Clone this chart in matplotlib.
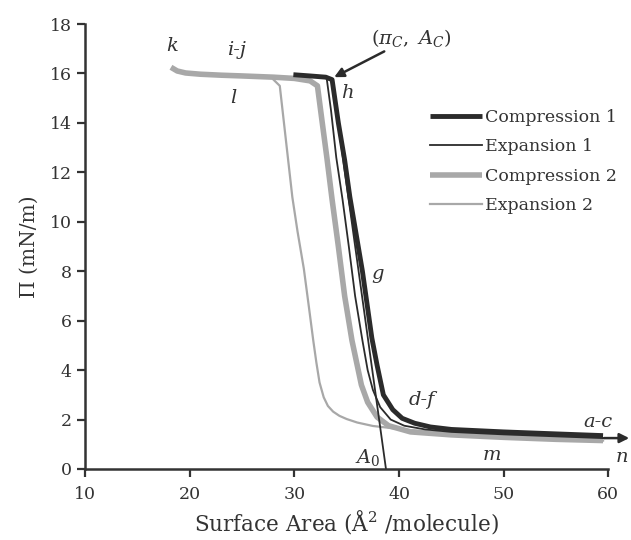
import numpy as np
import matplotlib.pyplot as plt

plt.rcParams["font.family"] = ["DejaVu Serif"]
plt.rcParams["mathtext.fontset"] = "dejavuserif"

# isotherm data (area in A^2/molecule, pressure in mN/m)
comp1_x = [29.9, 31.5, 33.0, 33.6, 34.2, 34.8, 35.3, 35.9, 36.5, 37.0, 37.4, 37.9,
           38.5, 39.4, 40.3, 41.5, 43.0, 45.0, 50.0, 55.0, 59.5]
comp1_y = [15.95, 15.9, 15.85, 15.75, 14.0, 12.5, 11.0, 9.5, 8.0, 6.5, 5.3, 4.2,
           3.0, 2.4, 2.05, 1.85, 1.7, 1.6, 1.5, 1.42, 1.35]

exp1_x = [33.1, 33.5, 34.0, 34.6, 35.2, 35.8, 36.5, 37.0, 37.5, 38.2, 39.2, 40.5,
          42.5, 45.0, 50.0, 55.0, 59.5]
exp1_y = [15.75, 14.5, 12.6, 10.9, 9.0, 7.0, 5.2, 4.0, 3.2, 2.5, 2.0, 1.75,
          1.6, 1.5, 1.4, 1.32, 1.25]

comp2_x = [18.2, 18.8, 19.6, 21.0, 23.0, 25.0, 28.0, 30.0, 31.5, 32.2, 32.6, 33.1, 33.6,
           34.2, 34.8, 35.5, 36.0, 36.4, 37.0, 37.9, 39.0, 41.1, 45.0, 50.0, 55.0, 59.5]
comp2_y = [16.25, 16.1, 16.02, 15.97, 15.93, 15.9, 15.85, 15.8, 15.7, 15.5, 14.2, 12.6, 10.9,
           9.0, 7.0, 5.2, 4.2, 3.4, 2.7, 2.1, 1.75, 1.5, 1.38, 1.28, 1.2, 1.15]

exp2_x = [28.0, 28.6, 29.0, 29.4, 29.8, 30.3, 30.9, 31.4, 31.8, 32.1, 32.4, 32.8,
          33.2, 33.7, 34.3, 35.0, 36.0, 37.5, 40.4, 45.0, 50.0, 55.0, 59.5]
exp2_y = [15.75, 15.5, 14.0, 12.5, 11.0, 9.6, 8.1, 6.5, 5.2, 4.3, 3.5, 2.9,
          2.55, 2.32, 2.15, 2.02, 1.88, 1.74, 1.6, 1.42, 1.3, 1.22, 1.15]

# tangent used to find A0
tangent_x = [33.6, 38.75]
tangent_y = [15.75, 0.0]

fig = plt.figure(figsize=(6.31, 5.4), dpi=100)
ax = fig.add_axes([0.135, 0.1315, 0.829, 0.824])

dark = "#2b2b2b"
light = "#a8a8a8"
txt = "#333333"

ax.plot(comp2_x, comp2_y, color=light, lw=4.0, solid_capstyle="butt", label="Compression 2")
ax.plot(exp2_x, exp2_y, color=light, lw=1.6, label="Expansion 2")
ax.plot(comp1_x, comp1_y, color=dark, lw=3.5, solid_capstyle="butt", label="Compression 1")
ax.plot(exp1_x, exp1_y, color=dark, lw=1.3, label="Expansion 1")
ax.plot(tangent_x, tangent_y, color=dark, lw=1.3)

ax.set_xlim(10, 60)
ax.set_ylim(0, 18)
ax.set_xticks(np.arange(10, 61, 10))
ax.set_yticks(np.arange(0, 19, 2))
for side in ["top", "right"]:
    ax.spines[side].set_visible(False)
for side in ["left", "bottom"]:
    ax.spines[side].set_color(txt)
    ax.spines[side].set_linewidth(1.8)
ax.tick_params(direction="out", length=6, width=1.6, color=txt,
               labelsize=12.5, labelcolor=txt)
ax.tick_params(axis="x", pad=6)
ax.set_xlabel("Surface Area (Å$^2$ /molecule)", fontsize=15.5, color=txt, labelpad=4)
ax.set_ylabel("Π (mN/m)", fontsize=14.5, color=txt, labelpad=8)

# point labels
lab = dict(fontsize=14, style="italic", color=txt, ha="center", va="center")
ax.text(18.3, 17.1, "k", **lab)
ax.text(24.5, 16.95, "i-j", **lab)
ax.text(24.2, 15.0, "l", **lab)
ax.text(35.1, 15.2, "h", **lab)
ax.text(37.9, 7.9, "g", **lab)
ax.text(42.2, 2.8, "d-f", **lab)
ax.text(59.0, 1.9, "a-c", **lab)
ax.text(48.9, 0.55, "m", **lab)
ax.text(61.3, 0.5, "n", clip_on=False, **lab)
ax.text(37.0, 0.45, "$A_0$", **lab)

ax.annotate(r"$(\pi_C,\ A_C)$", xy=(33.8, 15.85), xytext=(37.3, 17.45),
            fontsize=14, color=txt, va="center", ha="left",
            arrowprops=dict(arrowstyle="-|>", color=dark, lw=1.8, mutation_scale=14,
                            shrinkA=0, shrinkB=0))
ax.annotate("", xy=(62.0, 1.25), xytext=(59.6, 1.25), annotation_clip=False,
            arrowprops=dict(arrowstyle="-|>", color=dark, lw=1.8, mutation_scale=14,
                            shrinkA=0, shrinkB=0))

handles, labels = ax.get_legend_handles_labels()
order = [2, 3, 0, 1]
ax.legend([handles[i] for i in order], [labels[i] for i in order],
          loc="upper left", bbox_to_anchor=(0.63, 0.845), frameon=False,
          fontsize=12.5, handlelength=3.0, handletextpad=0.15, labelspacing=0.72,
          labelcolor=txt)

fig.savefig("out.png", dpi=100)
